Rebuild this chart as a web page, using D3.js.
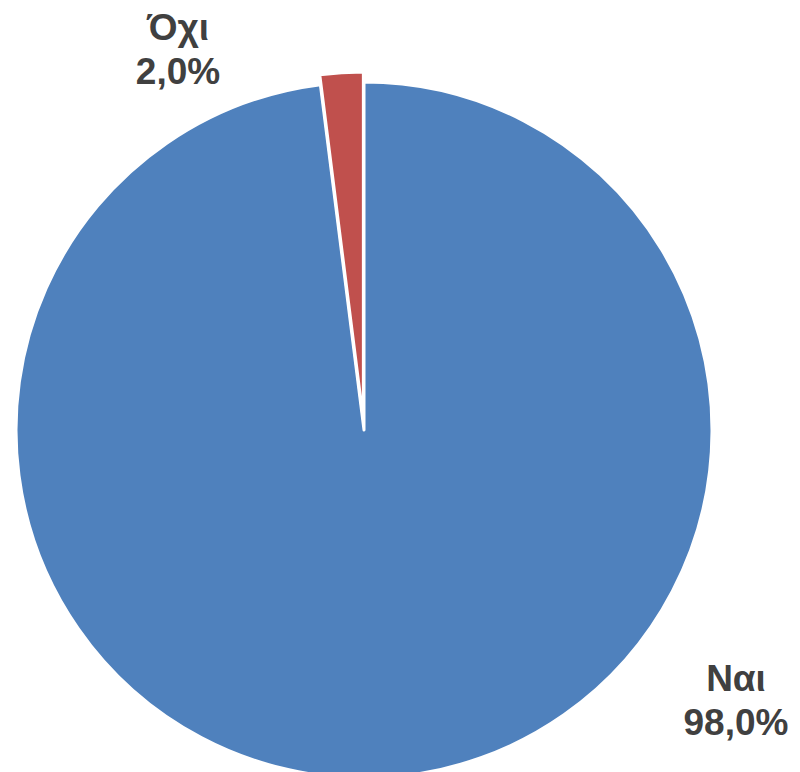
<!DOCTYPE html>
<html>
<head>
<meta charset="utf-8">
<script src="https://cdn.jsdelivr.net/npm/d3@7"></script>
<style>
  body { margin: 0; background: #fff; }
  svg { display: block; }
</style>
</head>
<body>
<div id="chart"></div>
<script>
var labels = ['Ναι', 'Όχι'];
var values = [98.0, 2.0];
var colors = ['#4F81BD', '#C0504D'];
var explode = [0, 10];

var width = 800;
var height = 772;
var cx = 364;
var cy = 430;
var radius = 348;

// label anchor positions (text block centre, first baseline)
var labelPos = [
  {x: 736, y: 691},
  {x: 178, y: 40}
];

var data = labels.map(function(l, i) {
  return {label: l, value: values[i], color: colors[i], explode: explode[i], pos: labelPos[i]};
});

var svg = d3.select('#chart').append('svg')
  .attr('width', width)
  .attr('height', height);

var g = svg.append('g')
  .attr('transform', 'translate(' + cx + ',' + cy + ')');

var pie = d3.pie().sort(null).value(function(d) { return d.value; });
var arc = d3.arc().innerRadius(0).outerRadius(radius);

var arcs = pie(data);

g.selectAll('path.slice')
  .data(arcs)
  .enter()
  .append('path')
    .attr('class', 'slice')
    .attr('d', arc)
    .attr('fill', function(d) { return d.data.color; })
    .attr('stroke', '#fff')
    .attr('stroke-width', 3)
    .attr('stroke-linejoin', 'round')
    .attr('transform', function(d) {
      var mid = (d.startAngle + d.endAngle) / 2;
      var off = d.data.explode;
      return 'translate(' + (Math.sin(mid) * off) + ',' + (-Math.cos(mid) * off) + ')';
    });

var lbl = svg.selectAll('text.label')
  .data(arcs)
  .enter()
  .append('text')
    .attr('class', 'label')
    .attr('text-anchor', 'middle')
    .attr('font-family', 'Liberation Sans, Arial, sans-serif')
    .attr('font-weight', 'bold')
    .attr('font-size', 37)
    .attr('fill', '#404040');

lbl.append('tspan')
  .attr('x', function(d) { return d.data.pos.x; })
  .attr('y', function(d) { return d.data.pos.y; })
  .text(function(d) { return d.data.label; });

lbl.append('tspan')
  .attr('x', function(d) { return d.data.pos.x; })
  .attr('y', function(d) { return d.data.pos.y + 44; })
  .text(function(d) { return d3.format('.1f')(d.data.value).replace('.', ',') + '%'; });
</script>
</body>
</html>
